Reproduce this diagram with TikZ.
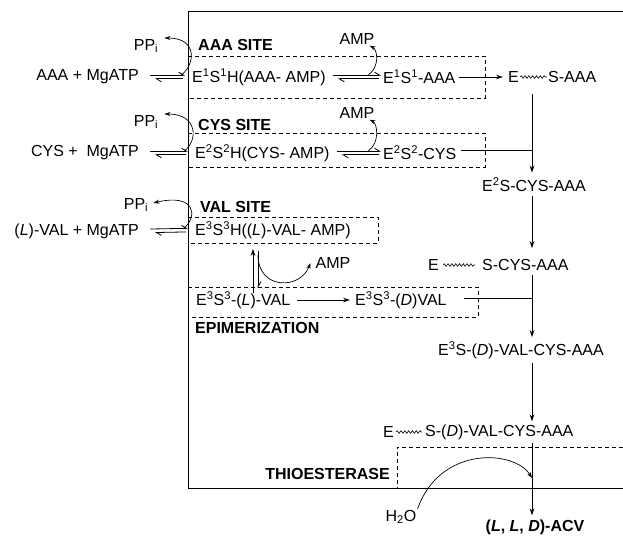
\documentclass[tikz,border=0pt]{standalone}
\usepackage{fontspec}
\setmainfont{Liberation Sans}
\usetikzlibrary{positioning,arrows.meta,decorations.pathmorphing}
\tikzset{
  chem/.style={inner sep=1pt, font=\fontsize{16}{19}\selectfont},
  sitelabel/.style={inner sep=1pt, font=\fontsize{16}{19}\selectfont\bfseries},
  stepline/.style={-{Stealth[length=7pt, width=4.6pt]}, line width=0.8pt},
  joinline/.style={line width=0.8pt},
  harp/.style={-{Straight Barb[harpoon, length=5pt, width=6pt]}, line width=0.8pt},
  sitebox/.style={dash pattern=on 4pt off 3pt, line width=0.8pt},
  bondwave/.style={decorate, decoration={snake, amplitude=1.3pt, segment length=3.8pt}, line width=0.6pt},
  relcurve/.style={-{Stealth[length=6pt, width=4pt]}, line width=0.7pt}
}

\begin{document}
\begin{tikzpicture}[x=1pt, y=-1pt]
      \useasboundingbox (0,0) rectangle (623,535);
      % enzyme frame and site boxes
      \draw[line width=0.9pt] (623,11) -- (188,11) -- (188,488) -- (623,488);
      \draw[sitebox] (188,56) -- (485,56) -- (485,98) -- (188,98);
      \draw[sitebox] (188,133) -- (485,133) -- (485,167) -- (188,167);
      \draw[sitebox] (188,217) -- (378,217) -- (378,243) -- (188,243);
      \draw[sitebox] (188,287) -- (478,287) -- (478,317) -- (188,317);
      \draw[sitebox] (623,447) -- (397,447) -- (397,488);
      \node[sitelabel, anchor=west] (aaasite) at (197,45) {AAA SITE};
      \node[sitelabel, anchor=west] (cyssite) at (197,125) {CYS SITE};
      \node[sitelabel, anchor=west] (valsite) at (199,207) {VAL SITE};
      \node[sitelabel, anchor=west] (episite) at (194,328) {EPIMERIZATION};
      \node[sitelabel, anchor=east] (thiosite) at (391,474) {THIOESTERASE};

      % substrates
      \node[chem, anchor=east] (aaa) at (140,77) {AAA + MgATP};
      \node[chem, anchor=east] (cys) at (140,153) {CYS +\ \ MgATP};
      \node[chem, anchor=east] (val) at (140,231) {(\textit{L})-VAL + MgATP};
      \node[chem] (ppi1) at (146,46) {PP\textsubscript{i}};
      \node[chem] (ppi2) at (146,122) {PP\textsubscript{i}};
      \node[chem] (ppi3) at (136,205) {PP\textsubscript{i}};

      % activated intermediates
      \node[chem, anchor=west] (aaaamp) at (191,77) {E\textsuperscript{1}S\textsuperscript{1}H(AAA- AMP)};
      \node[chem, anchor=west] (aaaenz) at (382,77) {E\textsuperscript{1}S\textsuperscript{1}-AAA};
      \node[chem, anchor=west] (cysamp) at (194,153) {E\textsuperscript{2}S\textsuperscript{2}H(CYS- AMP)};
      \node[chem, anchor=west] (cysenz) at (382,153) {E\textsuperscript{2}S\textsuperscript{2}-CYS};
      \node[chem, anchor=west] (valamp) at (194,230) {E\textsuperscript{3}S\textsuperscript{3}H((\textit{L})-VAL- AMP)};
      \node[chem, anchor=west] (lval) at (195,300) {E\textsuperscript{3}S\textsuperscript{3}-(\textit{L})-VAL};
      \node[chem, anchor=west] (dval) at (354,300) {E\textsuperscript{3}S\textsuperscript{3}-(\textit{D})VAL};
      \node[chem] (amp1) at (357,39) {AMP};
      \node[chem] (amp2) at (357,113) {AMP};
      \node[chem] (amp3) at (333,263) {AMP};

      % thioester chain
      \node[chem, anchor=west] (e1) at (507,77) {E};
      \node[chem, anchor=west] (s1) at (547,77) {S-AAA};
      \node[chem] (esca) at (534,185) {E\textsuperscript{2}S-CYS-AAA};
      \node[chem, anchor=west] (e2) at (427,265) {E};
      \node[chem, anchor=west] (s2) at (481,265) {S-CYS-AAA};
      \node[chem, anchor=west] (esvca) at (437,350) {E\textsuperscript{3}S-(\textit{D})-VAL-CYS-AAA};
      \node[chem, anchor=west] (e4) at (382,432) {E};
      \node[chem, anchor=west] (s4) at (424,432) {S-(\textit{D})-VAL-CYS-AAA};
      \node[chem] (acv) at (535,527) {\textbf{(\textit{L}, \textit{L}, \textit{D})-ACV}};
      \node[chem] (h2o) at (401,517) {H\textsubscript{2}O};
      \draw[bondwave] (e1.east) -- (s1.west);
      \draw[bondwave] ([xshift=3pt]e2.east) -- ([xshift=-6pt]s2.west);
      \draw[bondwave] ([xshift=1pt]e4.east) -- ([xshift=-2pt]s4.west);

      \coordinate (col) at (532,0);
      \coordinate (vup) at (253,0);
      \coordinate (vdn) at (258,0);
      \coordinate (amp3s) at (258,255);
      \coordinate (hyd) at (532,478);

      % equilibria
      \draw[harp, shorten <=10pt, shorten >=6pt] ([yshift=1.8pt]aaa.east) -- ([yshift=1.8pt]aaaamp.west);
      \draw[harp, shorten <=8pt, shorten >=15pt] ([yshift=-1.8pt]aaaamp.west) -- ([yshift=-1.8pt]aaa.east);
      \draw[harp, shorten <=10pt, shorten >=6pt] ([yshift=1.8pt]cys.east) -- ([yshift=1.8pt]cysamp.west);
      \draw[harp, shorten <=8pt, shorten >=15pt] ([yshift=-1.8pt]cysamp.west) -- ([yshift=-1.8pt]cys.east);
      \draw[harp, shorten <=10pt, shorten >=6pt] ([yshift=1.8pt]val.east) -- ([yshift=1.8pt]valamp.west);
      \draw[harp, shorten <=8pt, shorten >=15pt] ([yshift=-1.8pt]valamp.west) -- ([yshift=-1.8pt]val.east);
      \draw[harp, shorten <=6pt, shorten >=1pt] ([yshift=1.8pt]aaaamp.east) -- ([yshift=1.8pt]aaaenz.west);
      \draw[harp, shorten <=3pt, shorten >=11pt] ([yshift=-1.8pt]aaaenz.west) -- ([yshift=-1.8pt]aaaamp.east);
      \draw[harp, shorten <=6pt, shorten >=1pt] ([yshift=1.8pt]cysamp.east) -- ([yshift=1.8pt]cysenz.west);
      \draw[harp, shorten <=3pt, shorten >=11pt] ([yshift=-1.8pt]cysenz.west) -- ([yshift=-1.8pt]cysamp.east);
      \draw[stepline, shorten <=-3pt, shorten >=9pt] (lval.north -| vup) -- (valamp.south -| vup);
      \draw[harp, shorten <=11pt, shorten >=2pt] (valamp.south -| vdn) -- (lval.north -| vdn);

      % released PPi and AMP
      \draw[relcurve] ([shift={(-10pt,1.8pt)}]aaaamp.west) .. controls +(14,-10) and +(34,0) .. ([xshift=5pt]ppi1.north east);
      \draw[relcurve] ([shift={(-10pt,1.8pt)}]cysamp.west) .. controls +(14,-10) and +(34,0) .. ([xshift=5pt]ppi2.north east);
      \draw[relcurve] ([shift={(-10pt,1.8pt)}]valamp.west) .. controls +(14,-12) and +(42,-10) .. ([shift={(4pt,-6pt)}]ppi3.north east);
      \draw[relcurve] ([shift={(-14pt,1.8pt)}]aaaenz.west) .. controls +(12,-8) and +(8,4) .. ([xshift=-6pt]amp1.south east);
      \draw[relcurve] ([shift={(-14pt,1.8pt)}]cysenz.west) .. controls +(12,-8) and +(8,4) .. ([xshift=-6pt]amp2.south east);
      \draw[relcurve] (amp3s) .. controls (258,290) and (300,290) .. ([xshift=-4pt]amp3.west);

      % transfer along the chain
      \draw[stepline, shorten <=2pt, shorten >=4pt] (aaaenz.east) -- (e1.west);
      \draw[stepline, shorten <=6pt, shorten >=4pt] (lval.east) -- (dval.west);
      \draw[stepline, shorten <=10pt, shorten >=4pt] (s1.south -| col) -- (esca.north -| col);
      \draw[joinline, shorten <=4pt] ([yshift=3pt]cysenz.east) -- ([yshift=3pt]cysenz.east -| col);
      \draw[stepline, shorten <=3pt, shorten >=10pt] (esca.south -| col) -- (s2.north -| col);
      \draw[stepline, shorten <=3pt, shorten >=3pt] (s2.south -| col) -- (esvca.north -| col);
      \draw[joinline, shorten <=16pt] ([yshift=2pt]dval.east) -- ([yshift=2pt]dval.east -| col);
      \draw[stepline, shorten <=3pt, shorten >=2pt] (esvca.south -| col) -- (s4.north -| col);
      \draw[stepline, shorten <=2pt, shorten >=3pt] (s4.south -| col) -- (acv.north -| col);
      \draw[relcurve] (h2o.north east) .. controls (440,445) and (515,450) .. (hyd);
    \end{tikzpicture}
\end{document}
